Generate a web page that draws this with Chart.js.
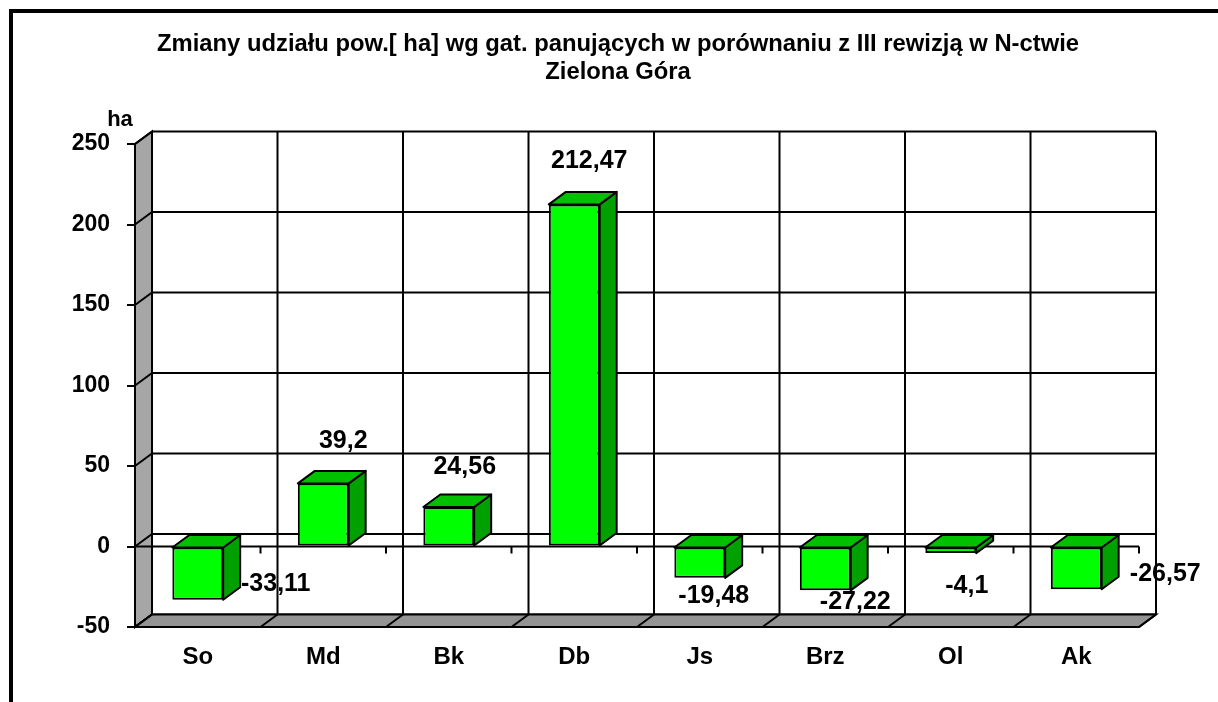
<!DOCTYPE html>
<html>
<head>
<meta charset="utf-8">
<script src="https://cdn.jsdelivr.net/npm/chart.js@4/dist/chart.umd.min.js"></script>
<style>
  html, body { margin: 0; padding: 0; background: #fff; }
  #wrap { width: 1218px; height: 702px; }
</style>
</head>
<body>
<div id="wrap"><canvas id="myChart" width="1218" height="702"></canvas></div>
<script>
var categories = ["So", "Md", "Bk", "Db", "Js", "Brz", "Ol", "Ak"];
var changes = [-33.11, 39.2, 24.56, 212.47, -19.48, -27.22, -4.1, -26.57];
var yTicks = [-50, 0, 50, 100, 150, 200, 250];
var titleLines = ["Zmiany udziału pow.[ ha] wg gat. panujących w porównaniu z III rewizją w N-ctwie", "Zielona Góra"];
var unitLabel = "ha";

// where the original had each value label nudged, relative to the bar end (px)
var labelNudge = [[78, -16], [20, -42], [16, -40], [15, -43], [14, 18], [30, 12], [16, 33], [89, -15]];

var FONT = 'Arial, "Liberation Sans", sans-serif';
var DX = 17, DY = -12.5; // depth of the 3d box
var WALL = "#a6a6a6", FLOOR = "#949494";
var BAR_FRONT = "#00ff00", BAR_TOP = "#00c000", BAR_SIDE = "#00a000";

function line(ctx, x1, y1, x2, y2) {
  ctx.beginPath();
  ctx.moveTo(x1, y1);
  ctx.lineTo(x2, y2);
  ctx.stroke();
}

function poly(ctx, pts, fill) {
  ctx.beginPath();
  ctx.moveTo(pts[0][0], pts[0][1]);
  for (var i = 1; i < pts.length; i++) ctx.lineTo(pts[i][0], pts[i][1]);
  ctx.closePath();
  ctx.fillStyle = fill;
  ctx.fill();
  ctx.stroke();
}

var box3d = {
  id: "box3d",
  beforeDraw: function (chart) {
    var ctx = chart.ctx, a = chart.chartArea, ys = chart.scales.y;
    var n = categories.length, cw = (a.right - a.left) / n;
    var top = ys.getPixelForValue(yTicks[yTicks.length - 1]);
    var bot = ys.getPixelForValue(yTicks[0]);
    ctx.save();

    // outer frame
    ctx.fillStyle = "#000";
    ctx.fillRect(9, 9, 4, chart.height);
    ctx.fillRect(9, 9, chart.width, 4);

    ctx.strokeStyle = "#000";
    ctx.lineWidth = 2;
    // back wall grid
    yTicks.forEach(function (v) {
      var y = ys.getPixelForValue(v) + DY;
      line(ctx, a.left + DX, y, a.right + DX, y);
    });
    for (var k = 0; k <= n; k++) {
      var x = a.left + k * cw + DX;
      line(ctx, x, top + DY, x, bot + DY);
    }
    // left wall
    poly(ctx, [[a.left, top], [a.left + DX, top + DY], [a.left + DX, bot + DY], [a.left, bot]], WALL);
    yTicks.forEach(function (v) {
      var y = ys.getPixelForValue(v);
      line(ctx, a.left, y, a.left + DX, y + DY);
    });
    // floor
    poly(ctx, [[a.left, bot], [a.right, bot], [a.right + DX, bot + DY], [a.left + DX, bot + DY]], FLOOR);
    for (k = 0; k <= n; k++) {
      var fx = a.left + k * cw;
      line(ctx, fx, bot, fx + DX, bot + DY);
    }

    // titles
    ctx.fillStyle = "#000";
    ctx.textAlign = "center";
    ctx.textBaseline = "alphabetic";
    ctx.font = "bold 23.8px " + FONT;
    ctx.fillText(titleLines[0], 618, 51);
    ctx.fillText(titleLines[1], 618, 79);
    ctx.font = "bold 22px " + FONT;
    ctx.fillText(unitLabel, 120, 126);
    ctx.restore();
  },
  beforeDatasetsDraw: function (chart) {
    var ctx = chart.ctx, a = chart.chartArea, ys = chart.scales.y;
    var n = categories.length, cw = (a.right - a.left) / n;
    var y0 = ys.getPixelForValue(0);
    ctx.save();
    ctx.strokeStyle = "#000";
    ctx.lineWidth = 2;
    line(ctx, a.left, y0, a.right, y0);
    for (var k = 1; k <= n; k++) {
      var x = a.left + k * cw;
      line(ctx, x, y0, x, y0 + 7);
    }
    ctx.lineJoin = "round";
    chart.getDatasetMeta(0).data.forEach(function (el) {
      var p = el.getProps(["x", "y", "base", "width"], true);
      var l = p.x - p.width / 2, r = p.x + p.width / 2;
      var t = Math.min(p.y, p.base), b = Math.max(p.y, p.base);
      poly(ctx, [[r, t], [r + DX, t + DY], [r + DX, b + DY], [r, b]], BAR_SIDE);
      poly(ctx, [[l, t], [r, t], [r + DX, t + DY], [l + DX, t + DY]], BAR_TOP);
    });
    ctx.restore();
  },
  afterDatasetsDraw: function (chart) {
    var ctx = chart.ctx;
    ctx.save();
    ctx.fillStyle = "#000";
    ctx.font = "bold 25px " + FONT;
    ctx.textAlign = "center";
    ctx.textBaseline = "middle";
    chart.getDatasetMeta(0).data.forEach(function (el, i) {
      var p = el.getProps(["x", "y"], true);
      var txt = String(changes[i]).replace(".", ",");
      ctx.fillText(txt, p.x + labelNudge[i][0], p.y + labelNudge[i][1]);
    });
    ctx.restore();
  }
};

new Chart("myChart", {
  type: "bar",
  data: {
    labels: categories,
    datasets: [
      {
        data: changes,
        backgroundColor: BAR_FRONT,
        borderColor: "#000",
        borderWidth: 2,
        borderSkipped: false,
        categoryPercentage: 1,
        barPercentage: 0.405,
      },
    ],
  },
  options: {
    responsive: false,
    animation: false,
    devicePixelRatio: 1,
    layout: { padding: { left: 0, right: 79, top: 144, bottom: 0 } },
    plugins: {
      legend: { display: false },
      title: { display: false },
      tooltip: { enabled: false },
    },
    scales: {
      x: {
        grid: { display: false, drawTicks: false },
        border: { display: false },
        ticks: { color: "#000", padding: 16, font: { family: FONT, size: 24, weight: "bold" } },
        afterFit: function (s) { s.height = 75; },
      },
      y: {
        min: yTicks[0],
        max: yTicks[yTicks.length - 1],
        afterBuildTicks: function (s) {
          s.ticks = yTicks.map(function (v) { return { value: v }; });
        },
        grid: { drawOnChartArea: false, color: "#000", lineWidth: 2, tickLength: 8 },
        border: { display: true, color: "#000", width: 2 },
        ticks: { color: "#000", padding: 17, font: { family: FONT, size: 23, weight: "bold" } },
        afterFit: function (s) { s.width = 135; },
      },
    },
  },
  plugins: [box3d],
});
</script>
</body>
</html>
